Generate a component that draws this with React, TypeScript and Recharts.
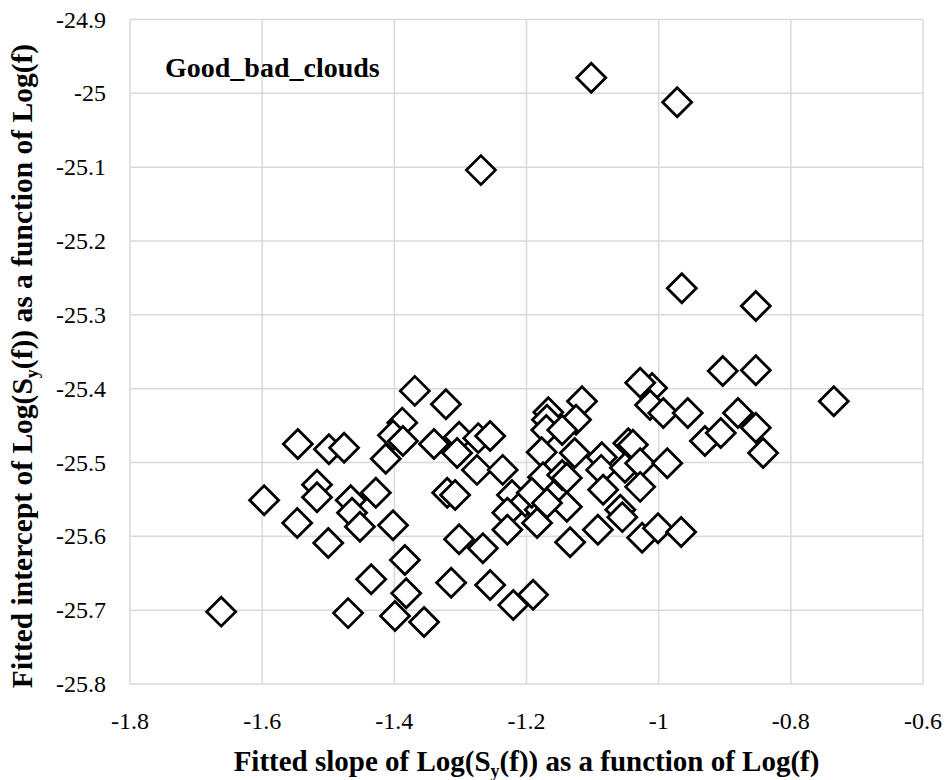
import React from "react";
import {
  ScatterChart,
  Scatter,
  XAxis,
  YAxis,
  CartesianGrid,
} from "recharts";

// values
const slopes = [
  -1.102, -0.972, -1.269, -0.965, -0.853, -0.735, -1.662,
  -1.369, -1.322, -1.546, -1.499, -1.476, -1.388, -1.402, -1.387, -1.413,
  -1.34, -1.302, -1.305, -1.597, -1.517, -1.517, -1.547, -1.5, -1.466,
  -1.464, -1.452, -1.428, -1.402, -1.32, -1.308, -1.302, -1.384, -1.435,
  -1.314, -1.382, -1.47, -1.399, -1.355,
  -1.273, -1.255, -1.275, -1.236, -1.222, -1.202, -1.229, -1.229, -1.18,
  -1.184, -1.139, -1.266, -1.255, -1.22, -1.19,
  -1.116, -1.167, -1.169, -1.17, -1.125, -1.146, -1.177, -1.127, -1.175,
  -1.146, -1.139, -1.086, -1.087, -1.084, -1.046, -1.039, -1.051, -1.028,
  -1.028, -0.987, -1.01, -1.028, -1.013, -0.993, -0.956, -1.192, -1.169,
  -1.058,
  -1.134, -1.092, -1.055, -1.025, -1.001, -0.966,
  -0.903, -0.853, -0.88, -0.93, -0.906, -0.853, -0.842,
];

const intercepts = [
  -24.979, -25.012, -25.104, -25.264, -25.288, -25.417, -25.702,
  -25.403, -25.421, -25.475, -25.482, -25.48, -25.446, -25.463, -25.471, -25.495,
  -25.475, -25.465, -25.487, -25.551, -25.53, -25.547, -25.582, -25.609, -25.551,
  -25.568, -25.587, -25.541, -25.585, -25.541, -25.544, -25.604, -25.632, -25.658,
  -25.663, -25.677, -25.704, -25.708, -25.716,
  -25.467, -25.464, -25.51, -25.51, -25.544, -25.553, -25.568, -25.591, -25.564,
  -25.582, -25.56, -25.616, -25.666, -25.693, -25.679,
  -25.417, -25.432, -25.442, -25.456, -25.442, -25.456, -25.486, -25.487, -25.52,
  -25.517, -25.521, -25.493, -25.51, -25.537, -25.474, -25.476, -25.507, -25.501,
  -25.533, -25.501, -25.399, -25.392, -25.422, -25.433, -25.433, -25.541, -25.555,
  -25.564,
  -25.608, -25.591, -25.574, -25.602, -25.589, -25.594,
  -25.376, -25.375, -25.433, -25.471, -25.46, -25.453, -25.487,
];

const xTicks = [-1.8, -1.6, -1.4, -1.2, -1, -0.8, -0.6];
const yTicks = [-24.9, -25, -25.1, -25.2, -25.3, -25.4, -25.5, -25.6, -25.7, -25.8];

const data = slopes.map((s, i) => ({ x: s, y: intercepts[i] }));

const FONT = "Liberation Serif";

const fmt = (v: number) => String(Number(v.toFixed(1)));

const Diamond = (props: any) => {
  const { cx, cy } = props;
  const r = 14.5;
  return (
    <polygon
      points={`${cx},${cy - r} ${cx + r},${cy} ${cx},${cy + r} ${cx - r},${cy}`}
      fill="#fff"
      stroke="#000"
      strokeWidth={2.8}
      strokeLinejoin="miter"
    />
  );
};

const XTick = (props: any) => {
  const { x, y, payload } = props;
  return (
    <text x={x} y={y + 43} textAnchor="middle" fontFamily={FONT} fontSize={24} fill="#000">
      {fmt(payload.value)}
      <tspan dy={0}></tspan>
    </text>
  );
};

const YTick = (props: any) => {
  const { x, y, payload } = props;
  return (
    <text x={x - 22} y={y + 8} textAnchor="end" fontFamily="Times New Roman" fontSize={24} fill="#000">
      {fmt(payload.value)}
    </text>
  );
};

const XTitle = (props: any) => {
  const { viewBox } = props;
  const cx = viewBox.x + viewBox.width / 2;
  return (
    <text
      x={cx}
      y={viewBox.y + 87}
      textAnchor="middle"
      fontFamily={FONT}
      fontWeight="bold"
      fontSize={29}
      fill="#000"
    >
      Fitted slope of Log(S
      <tspan dy={6} fontSize={18}>y</tspan>
      <tspan dy={-6}>(f)) as a function of Log(f)</tspan>
    </text>
  );
};

const YTitle = () => {
  const cy = 366;
  const x = 32;
  return (
    <text
      x={x}
      y={cy}
      transform={`rotate(-90, ${x}, ${cy})`}
      textAnchor="middle"
      fontFamily={FONT}
      fontWeight="bold"
      fontSize={29.5}
      fill="#000"
    >
      Fitted intercept of Log(S
      <tspan dy={6} fontSize={18}>y</tspan>
      <tspan dy={-6}>(f)) as a function of Log(f)</tspan>
    </text>
  );
};

export default function App() {
  return (
    <div
      style={{
        position: "absolute",
        left: 0,
        top: 0,
        width: 949,
        height: 780,
        background: "#fff",
      }}
    >
      <ScatterChart
        width={949}
        height={780}
        margin={{ top: 19.5, right: 26, bottom: 0, left: 0 }}
      >
        <CartesianGrid stroke="#d9d9d9" strokeWidth={1.5} />
        <XAxis
          type="number"
          dataKey="x"
          domain={[-1.8, -0.6]}
          ticks={xTicks}
          allowDataOverflow
          axisLine={false}
          tickLine={false}
          tickSize={0}
          height={96}
          tick={<XTick />}
          label={<XTitle />}
        />
        <YAxis
          type="number"
          dataKey="y"
          domain={[-25.8, -24.9]}
          ticks={yTicks}
          allowDataOverflow
          axisLine={false}
          tickLine={false}
          tickSize={0}
          width={130}
          tick={<YTick />}
          label={<YTitle />}
        />
        <Scatter
          data={data}
          shape={<Diamond />}
          isAnimationActive={false}
        />
        <text x={165} y={77} fontFamily="serif" fontWeight="bold" fontSize={28} fill="#000">
          Good_bad_
          <tspan dy={0}>clouds</tspan>
        </text>
      </ScatterChart>
    </div>
  );
}
